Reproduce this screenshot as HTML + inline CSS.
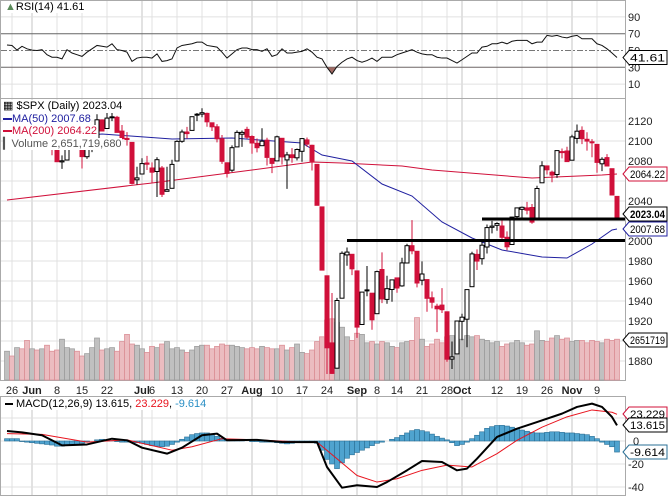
<!DOCTYPE html>
<html><head><meta charset="utf-8"><style>
html,body{margin:0;padding:0;background:#fff;}
svg{display:block;font-family:"Liberation Sans",sans-serif;}
</style></head><body>
<svg id="c" width="668" height="496" viewBox="0 0 668 496" xmlns="http://www.w3.org/2000/svg"></svg>
<script>
const closes=[2126.1,2104.2,2123.5,2120.8,2107.4,2111.7,2109.6,2114.1,2095.8,2092.8,2079.3,2080.2,2105.2,2108.9,2094.1,2084.4,2096.3,2100.4,2121.2,2110.0,2122.9,2124.2,2108.6,2102.3,2101.5,2057.6,2063.1,2077.4,2076.8,2068.8,2081.3,2046.7,2051.3,2076.6,2099.6,2109.0,2107.4,2124.3,2126.6,2128.3,2119.2,2114.2,2102.2,2079.7,2067.6,2093.3,2108.6,2108.6,2103.8,2098.0,2093.3,2099.8,2083.6,2077.6,2104.2,2084.1,2086.1,2083.4,2091.5,2102.4,2096.9,2079.6,2035.7,1970.9,1893.2,1867.6,1940.5,1987.7,1988.9,1972.2,1913.9,1948.9,1951.1,1921.2,1969.4,1942.0,1952.3,1961.1,1953.0,1978.1,1995.3,1990.2,1958.0,1967.0,1942.7,1938.8,1932.2,1931.3,1881.8,1884.1,1920.0,1923.8,1951.4,1987.1,1979.9,1995.8,2013.4,2014.9,2017.5,2003.7,1994.2,2023.9,2033.1,2033.7,2030.8,2018.9,2052.5,2075.2,2071.2,2065.9,2090.4,2089.4,2079.4,2104.1,2109.8,2102.3,2099.9,2099.2,2078.6,2081.7,2075.0,2046.0,2023.0];
const opens=[2130.4,2125.3,2105.1,2122.3,2120.7,2108.6,2110.4,2110.6,2112.4,2095.1,2092.3,2079.1,2081.0,2106.2,2107.4,2091.3,2084.3,2097.4,2101.6,2121.1,2112.5,2123.2,2123.7,2109.9,2102.6,2098.6,2061.2,2067.0,2078.0,2073.0,2069.5,2073.0,2049.7,2052.7,2080.0,2099.7,2109.0,2110.6,2126.8,2126.9,2127.6,2118.2,2114.2,2102.2,2078.2,2070.8,2094.1,2106.8,2111.6,2104.5,2097.7,2095.3,2100.8,2082.6,2080.1,2102.7,2081.1,2086.2,2083.2,2089.7,2101.1,2095.7,2076.6,2034.1,1965.2,1898.1,1872.8,1942.8,1986.1,1986.7,1970.1,1916.5,1950.8,1947.8,1927.3,1971.5,1941.6,1951.5,1963.1,1955.1,1978.0,1995.3,1989.7,1960.8,1961.4,1943.2,1934.8,1935.9,1929.2,1881.9,1887.1,1919.7,1921.8,1954.3,1986.6,1982.3,1994.0,2013.7,2015.7,2015.0,2003.7,1996.5,2024.4,2031.7,2033.1,2033.5,2021.9,2058.2,2075.1,2068.8,2066.5,2088.4,2090.0,2080.8,2102.6,2110.6,2101.7,2098.6,2096.6,2077.2,2083.4,2072.3,2044.6];
const highs=[2132.2,2125.3,2126.2,2122.3,2120.7,2119.2,2117.6,2121.9,2112.9,2100.0,2093.0,2085.6,2108.5,2115.0,2107.4,2091.3,2097.4,2106.8,2126.7,2121.6,2129.9,2128.0,2125.1,2116.0,2108.9,2098.6,2074.3,2082.8,2085.1,2078.6,2083.7,2075.0,2074.3,2081.3,2100.7,2111.4,2114.1,2124.4,2128.0,2132.8,2128.4,2118.5,2116.9,2106.0,2078.6,2095.6,2110.6,2110.5,2114.2,2105.7,2102.5,2112.7,2103.3,2082.6,2105.4,2102.7,2089.1,2092.9,2092.5,2102.9,2103.5,2096.2,2076.6,2034.1,1965.2,1948.0,1943.1,1989.6,1993.5,1986.7,1970.1,1948.9,1975.0,1947.8,1970.4,1988.6,1965.3,1961.1,1963.1,1983.2,1997.3,2020.9,1989.7,1979.6,1961.4,1949.5,1937.2,1952.9,1929.2,1899.5,1920.5,1927.2,1951.4,1989.2,1991.6,1999.3,2016.5,2020.1,2018.7,2022.3,2009.6,2024.2,2033.5,2034.5,2039.1,2037.0,2055.2,2079.7,2075.1,2070.4,2090.4,2092.5,2094.3,2106.2,2116.5,2114.6,2108.8,2101.9,2096.6,2083.7,2086.9,2072.3,2044.6];
const lows=[2126.1,2099.2,2105.1,2112.9,2104.9,2102.5,2099.1,2109.6,2093.2,2085.7,2079.1,2072.1,2081.0,2106.2,2091.3,2072.5,2082.1,2088.9,2101.6,2109.5,2112.5,2119.9,2108.6,2101.8,2095.4,2056.6,2056.3,2067.0,2071.0,2058.4,2044.0,2044.0,2049.7,2052.7,2080.0,2098.2,2102.5,2110.6,2119.9,2123.7,2114.2,2110.0,2098.6,2077.1,2063.5,2069.1,2094.1,2094.1,2102.1,2087.3,2088.6,2095.3,2075.5,2067.9,2080.1,2076.5,2052.1,2078.3,2080.6,2079.3,2094.1,2070.5,2035.7,1970.9,1867.0,1867.1,1872.8,1942.8,1975.2,1965.9,1903.1,1916.5,1944.7,1911.2,1927.3,1937.9,1937.2,1939.2,1948.3,1954.3,1977.9,1986.7,1953.6,1955.8,1929.2,1932.6,1908.9,1928.0,1879.2,1872.0,1887.1,1900.7,1893.7,1954.3,1971.0,1976.4,1987.5,2007.6,2010.3,2001.8,1990.7,1996.5,2020.5,2022.3,2026.6,2017.2,2021.9,2058.2,2066.5,2058.8,2063.1,2082.6,2079.3,2080.8,2097.5,2096.9,2090.4,2083.7,2068.2,2069.9,2074.9,2045.7,2022.0];
const volumes=[2.4,2.0,2.7,2.6,3.3,2.6,2.5,2.6,2.9,2.4,2.5,3.4,2.7,2.6,2.4,2.0,2.2,2.7,3.5,2.5,2.6,2.7,2.4,3.2,3.8,3.0,2.9,2.6,2.3,2.8,2.7,3.0,3.2,2.6,2.7,2.5,2.3,2.5,2.8,2.9,2.9,2.6,2.8,3.0,2.9,2.9,2.8,2.7,2.6,2.7,2.6,2.8,2.7,2.6,2.6,2.9,2.5,2.7,3.0,2.3,2.2,2.5,3.2,3.6,5.0,5.1,4.8,4.4,3.6,3.3,3.9,3.8,3.1,3.2,3.0,3.2,3.1,2.8,2.7,3.1,3.2,3.3,5.2,3.4,2.8,3.0,3.4,3.1,3.6,3.7,3.3,3.4,3.7,3.6,3.7,3.4,3.3,3.1,3.2,2.8,3.0,3.1,3.3,3.1,2.9,3.0,4.1,3.3,3.2,3.5,3.7,3.4,3.5,3.2,3.3,3.3,3.1,3.3,3.2,3.1,3.4,3.3,3.4];
const ma50Idx=[0,19,33,45,59,63,67,69,75,81,87,93,99,107,112,117,121,122];
const ma50Vals=[2098,2107,2102,2103,2098,2086,2082,2080,2057,2045,2019,2003,1991,1984,1983,1997,2011,2012];
const ma200Idx=[0,29,49,61,67,79,85,105,119,122];
const ma200Vals=[2041,2058,2071,2079,2078,2075,2071,2063,2066,2067];
const rsiVals=[56.5,56,50.5,55,52,50.5,50,51,45,42,42,40,51,47,45,43,48,52,56,55,54,58,51,50,48,37,41,42,42,41,46,37,38,40,53,56,57,58,60,60,56,55,54,48,41,46,51,53,53,51,51,49,52,43,45,52,47,47,48,49,52,48,42,40,30,22,31,36,40,42,38,36,38,41,37,42,42,42,45,47,49,51,48,46,45,45,42,41,41,38,35,39,43,47,47,54,55,58,58,60,58,61,62,62,62,58,60,60,68,67,68,66,65,67,68,64,64,64,58,56,52,47,41.61];
const macdIdx=[0,3,7,11,16,21,24,27,32,35,39,42,44,50,55,59,62,64,67,70,74,76,80,83,87,90,92,94,98,102,106,111,114,117,119,121,122];
const macdVals=[8.7,7.5,5,-3.8,-3,2,0.6,-5.8,-11,-5.8,5,6.4,0.6,1,-0.9,-1,-1,-22.6,-40.6,-38.5,-40,-35.7,-25.5,-17.4,-18.3,-25.5,-24,-15.4,3.5,10.7,16.5,23.8,29.6,32.5,29.6,20.9,13.6];
const sigIdx=[0,7,16,24,33,37,43,50,59,62,66,70,74,78,83,88,93,98,102,107,112,117,121,122];
const sigVals=[6.4,5.8,-1,1,-8,-5,2,1,-1,-1,-15.4,-30,-35.7,-32.8,-25.5,-21,-22.6,-11,0.6,12,21,27,25,23.2];
const histVals=[2,2,2,-0.5,-1,-1.5,-2,-2.5,-3,-3.5,-4.5,-4.5,-4,-3.5,-3,-2,-1,0,1,1.5,1,0.5,-0.5,-1,-1,-1,-1.5,-2,-3,-4,-4.5,-5,-4.5,-3,-1,1.5,3.5,5.5,6.5,7,7,6,4,2.5,1.5,1.5,1,0.5,0,-0.5,-0.5,-1,-1,-1,-1.5,-2,-2.5,-2,-1.5,-1,-0.5,-0.5,-2,-8,-16,-20,-24,-19,-15,-12,-10,-8,-6,-4,-2,-1,0,1.5,3,5,7,9,10,9,8,6,4,2.5,1,-1.5,-4,-3,-1,2,5,8,11,12.5,13.5,13.6,13,12,11,9.5,8.5,7.5,7,7,7.5,8,8,7.5,7,7,6.5,6,5.5,4,2,-1,-3,-5,-9.614];
const xTickIdx=[1,5,10,15,20,27,29,34,39,44,49,54,59,64,70,74,78,83,88,91,98,103,108,113,118];
const xTickLabels=["26","Jun","8","15","22","Jul","6","13","20","27","Aug","10","17","24","Sep","8","14","21","28","Oct","12","19","26","Nov","9"];
const xTickBold=[0,1,0,0,0,1,0,0,0,0,1,0,0,0,1,0,0,0,0,1,0,0,0,1,0];
const priceTicks=[2120,2100,2080,2060,2040,2020,2000,1980,1960,1940,1920,1900,1880];
const priceTickShown=[2120,2100,2080,2040,2000,1980,1960,1940,1920,1880];
const rsiTicks=[90,70,50,30,10];
const macdTicks=[20,0,-20,-40];
const supportLevels=[2022,2000.5];
const supportStart=[95,68];

const NS="http://www.w3.org/2000/svg";
const svg=document.getElementById('c');
function mk(tag,attrs,parent){const e=document.createElementNS(NS,tag);for(const k in attrs)e.setAttribute(k,attrs[k]);(parent||svg).appendChild(e);return e;}
const X=i=>7+5*i;
const rsiY=r=>50.5-(r-50)*0.84;
const pY=p=>121+(2120-p)*1.0;
const vY=v=>380-v*12;
const mY=m=>441-m*1.15;
const PR=625;

let e;
e=mk('rect',{x:0.5,y:0.5,width:PR,height:98,fill:'#fff',stroke:'#aaa'});


e=mk('rect',{x:0.5,y:98.5,width:PR,height:282,fill:'#fff',stroke:'#aaa'});


e=mk('rect',{x:0.5,y:396.5,width:PR,height:99,fill:'#fff',stroke:'#aaa'});



xTickIdx.forEach((t,k)=>{
  const col=xTickBold[k]?'#c4c4c4':'#e0e0e0';
  [[1,98],[99,380],[397,495]].forEach(r=>{
    e=mk('line',{x1:X(t),x2:X(t),y1:r[0],y2:r[1],stroke:col,'stroke-width':1});
    
    
  });
  e=mk('text',{x:X(t),y:394,'text-anchor':'middle','font-size':11,'font-weight':xTickBold[k]?'bold':'normal',fill:'#222'});
  e.textContent=xTickLabels[k];
  
  
});
priceTicks.forEach(p=>{
  e=mk('line',{x1:1,x2:PR,y1:pY(p),y2:pY(p),stroke:'#e0e0e0'});
  
  
});
priceTickShown.forEach(p=>{
  e=mk('text',{x:628,y:pY(p)+4,'font-size':11,fill:'#222'});
  e.textContent=p;
  
  
});
rsiTicks.forEach(r=>{
  const dark=(r===70||r===30);
  e=mk('line',{x1:1,x2:PR,y1:rsiY(r),y2:rsiY(r),stroke:dark?'#666':(r===50?'#777':'#e0e0e0'),'stroke-dasharray':r===50?'6,2,2,2':'none'});
  
  
  e=mk('text',{x:628,y:rsiY(r)+4,'font-size':11,fill:'#222'});
  e.textContent=r;
  
  
});
macdTicks.forEach(m=>{
  e=mk('line',{x1:1,x2:PR,y1:mY(m),y2:mY(m),stroke:'#e0e0e0'});
  
  
  if(m!==20){
    e=mk('text',{x:m<0?628:633,y:mY(m)+4,'font-size':11,fill:'#222'});
    e.textContent=m;
    
    
  }
});

let rp=rsiVals.map((r,i)=>X(i)+','+rsiY(r)).join(' ');
e=mk('clipPath',{id:'below30'});
mk('rect',{x:0,y:rsiY(30),width:PR,height:40},e);
e=mk('polygon',{points:rp+' '+X(rsiVals.length-1)+','+rsiY(30)+' '+X(0)+','+rsiY(30),fill:'#a06a64','clip-path':'url(#below30)'});


e=mk('polyline',{points:rp,fill:'none',stroke:'#111','stroke-width':1});



volumes.forEach((v,i)=>{
  const up=i===0||closes[i]>=closes[i-1];
  e=mk('rect',{x:X(i)-2.5,y:vY(v),width:5,height:380-vY(v),fill:up?'#c0c0c0':'#ebbcc0',stroke:up?'#999':'#d98a92','stroke-width':0.7});
  
  
});

e=mk('polyline',{points:ma200Idx.map((t,k)=>X(t)+','+pY(ma200Vals[k])).join(' '),fill:'none',stroke:'#d0103a','stroke-width':1});


e=mk('polyline',{points:ma50Idx.map((t,k)=>X(t)+','+pY(ma50Vals[k])).join(' '),fill:'none',stroke:'#2020a0','stroke-width':1});



closes.forEach((c,i)=>{
  const o=opens[i],up=i===0||c>=closes[i-1];
  const col=up?'#000':'#d0103a';
  e=mk('line',{x1:X(i),x2:X(i),y1:pY(highs[i]),y2:pY(lows[i]),stroke:col,'stroke-width':1});
  
  
  const top=pY(Math.max(o,c)),h=Math.max(1,Math.abs(pY(o)-pY(c)));
  e=mk('rect',{x:X(i)-2,y:top,width:4,height:h,fill:c>o?'#fff':col,stroke:col,'stroke-width':1});
  
  
});

supportLevels.forEach((p,k)=>{
  e=mk('line',{x1:X(supportStart[k]),x2:PR,y1:pY(p),y2:pY(p),stroke:'#000','stroke-width':3});
  
  
});

histVals.forEach((h,i)=>{
  const y0=mY(0),y1=mY(h);
  e=mk('rect',{x:X(i)-2.5,y:Math.min(y0,y1),width:5,height:Math.abs(y1-y0),fill:'#4fa3cf',stroke:'#2a6f95','stroke-width':0.6});
  
  
});
e=mk('polyline',{points:sigIdx.map((t,k)=>X(t)+','+mY(sigVals[k])).join(' '),fill:'none',stroke:'#e8141e','stroke-width':1,'stroke-linejoin':'round'});


e=mk('polyline',{points:macdIdx.map((t,k)=>X(t)+','+mY(macdVals[k])).join(' '),fill:'none',stroke:'#000','stroke-width':2,'stroke-linejoin':'round'});



function tag(y,txt,col,bold,name){
  const g=mk('g',{});
  
  
  mk('polygon',{points:`623,${y} 629,${y-7} 667,${y-7} 667,${y+7} 629,${y+7}`,fill:'#fff',stroke:col},g);
  const t=mk('text',{x:630,y:y+4,'font-size':11,'font-weight':bold?'bold':'normal',fill:'#000',textLength:35,lengthAdjust:'spacingAndGlyphs'},g);
  t.textContent=txt;
}
tag(rsiY(41.61),'41.61','#000',false,'rsi-value-tag');
tag(174,'2064.22','#d0103a',false,'ma200-value-tag');
tag(214,'2023.04','#000',true,'price-value-tag');
tag(229,'2007.68','#2020a0',false,'ma50-value-tag');
tag(340,'2651719','#000',false,'volume-value-tag');
tag(414,'23.229','#d0103a',false,'signal-value-tag');
tag(425,'13.615','#000',false,'macd-value-tag');
tag(452,'-9.614','#2a6f95',false,'histogram-value-tag');
</script>
<div style="position:absolute;left:0;top:0;width:668px;height:496px;pointer-events:none;font-family:'Liberation Sans',sans-serif;font-size:11px;">
  <div style="position:absolute;left:3px;top:1px;background:#fff;padding:0 2px;"><span style="color:#5a8a5a">&#9650;</span>RSI(14) 41.61</div>
  <div style="position:absolute;left:3px;top:100px;line-height:12.5px;">
    <div style="background:#fff;display:inline-block"><b style="font-weight:normal">&#9638;</b> $SPX (Daily) 2023.04</div><br>
    <div style="color:#2020a0;display:inline-block;background:#fff"><span style="display:inline-block;width:9px;border-top:2px solid #2020a0;vertical-align:middle"></span>MA(50) 2007.68</div><br>
    <div style="color:#d0103a;display:inline-block;background:#fff"><span style="display:inline-block;width:9px;border-top:2px solid #d0103a;vertical-align:middle"></span>MA(200) 2064.22</div><br>
    <div style="color:#555;display:inline-block;background:#fff">&#9614;Volume 2,651,719,680</div>
  </div>
  <div style="position:absolute;left:3px;top:398px;background:#fff;padding:0 2px;"><span style="display:inline-block;width:8px;border-top:2px solid #000;vertical-align:middle"></span> MACD(12,26,9) 13.615, <span style="color:#e8141e">23.229</span>, <span style="color:#2a8fc5">-9.614</span></div>
</div>
</body></html>
